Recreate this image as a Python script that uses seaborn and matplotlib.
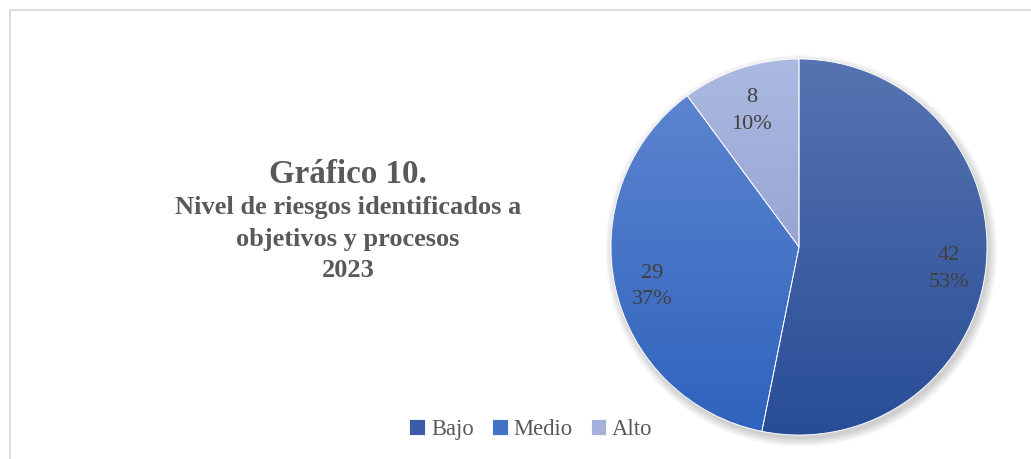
import numpy as np
import matplotlib
matplotlib.use("Agg")
import matplotlib.pyplot as plt
from matplotlib.colors import to_rgb
from matplotlib.lines import Line2D
from matplotlib.patches import Circle, Wedge
from matplotlib.transforms import ScaledTranslation
import seaborn as sns

# ---- data ----
categories = ["Bajo", "Medio", "Alto"]
values = [42, 29, 8]
title_lines = ["Gráfico 10.", "Nivel de riesgos identificados a", "objetivos y procesos", "2023"]

# ---- style ----
sns.set_theme(style="white")
plt.rcParams["font.family"] = ["Liberation Serif", "DejaVu Serif"]

base_colors = ["#3A5DA6", "#4472C4", "#A3B1DC"]
grad_top = ["#5773B1", "#5C84CF", "#ABBAE2"]
grad_bot = ["#284D97", "#2F63BD", "#97A5D3"]
text_grey = "#595959"
label_grey = "#404040"

W, H = 1031, 460
fig = plt.figure(figsize=(W / 100, H / 100), dpi=100)
fig.patch.set_facecolor("white")

# chart border (top and left visible)
fig.add_artist(Line2D([9.5 / W, 1.0], [1 - 10.5 / H, 1 - 10.5 / H], color="#D9D9D9", lw=1.3))
fig.add_artist(Line2D([9.5 / W, 9.5 / W], [0.0, 1 - 10.5 / H], color="#D9D9D9", lw=1.3))

# pie axes: centre (799,248) px, radius 188 px
cx, cy, r = 799, 248, 188
lim = 1.06
side = 2 * lim * r
ax = fig.add_axes([(cx - side / 2) / W, (H - cy - side / 2) / H, side / W, side / H])

total = sum(values)
labels = [f"{v}\n{round(100 * v / total)}%" for v in values]

# soft shadow behind the pie
for i in range(8):
    ax.add_patch(Circle((0.012, -0.02), 1.0 + 0.006 * i, facecolor="black",
                        edgecolor="none", alpha=0.025, zorder=0))

wedges, texts = ax.pie(values, labels=labels, colors=base_colors, startangle=90,
                       counterclock=False, labeldistance=0.8,
                       wedgeprops=dict(edgecolor="white", linewidth=0.6, zorder=2),
                       textprops=dict(fontsize=16, color=label_grey))

shift = ScaledTranslation(0, -6 / 100, fig.dpi_scale_trans)
for t in texts:
    t.set_ha("center")
    t.set_va("center")
    t.set_linespacing(1.55)
    t.set_zorder(5)
    t.set_transform(t.get_transform() + shift)

# vertical gradient fill clipped to each wedge
for w, top, bot in zip(wedges, grad_top, grad_bot):
    ext = w.get_path().get_extents()
    n = 256
    t_ = np.linspace(0, 1, n)[:, None]
    c0, c1 = np.array(to_rgb(top)), np.array(to_rgb(bot))
    img = (c0[None, :] * (1 - t_) + c1[None, :] * t_)[:, None, :]
    im = ax.imshow(img, extent=(ext.x0, ext.x1, ext.y0, ext.y1), origin="upper",
                   aspect="auto", zorder=3, interpolation="bilinear")
    im.set_clip_path(w)
    ax.add_patch(Wedge(w.center, w.r, w.theta1, w.theta2, facecolor="none",
                       edgecolor="white", linewidth=0.6, zorder=4))

ax.set_xlim(-lim, lim)
ax.set_ylim(-lim, lim)
ax.set_aspect("equal")
ax.axis("off")

# title block
cxt = 348 / W
fig.text(cxt, 1 - 183 / H, title_lines[0], ha="center", va="baseline",
         fontsize=23.8, fontweight="bold", color=text_grey)
for line, base in zip(title_lines[1:], [214, 246, 277]):
    fig.text(cxt, 1 - base / H, line, ha="center", va="baseline",
             fontsize=19, fontweight="bold", color=text_grey)

# legend
leg = fig.legend(wedges, categories, loc="center", bbox_to_anchor=(531 / W, 1 - 430 / H),
                 ncol=3, frameon=False, fontsize=16.3, handlelength=0.7, handleheight=0.7,
                 handletextpad=0.25, columnspacing=0.8, borderpad=0)
for txt in leg.get_texts():
    txt.set_color(text_grey)

fig.savefig("out.png", dpi=100, facecolor="white")
